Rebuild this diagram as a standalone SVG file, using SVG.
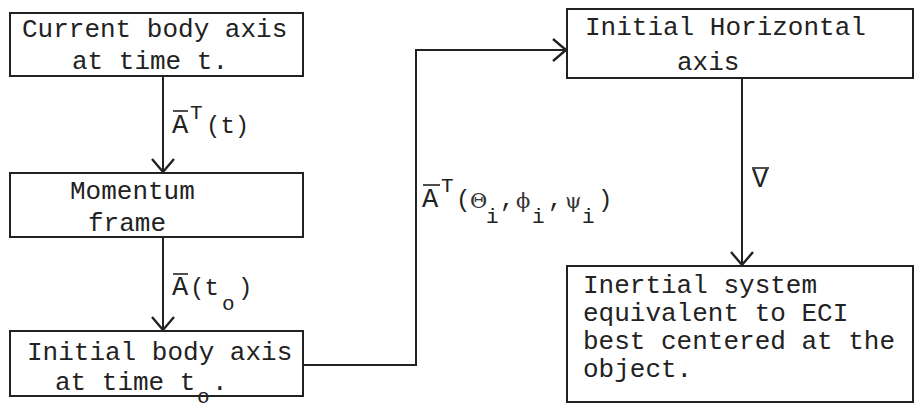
<svg xmlns="http://www.w3.org/2000/svg" width="916" height="410" viewBox="0 0 916 410">
<style>
.box{fill:#fff;stroke:#222;stroke-width:2}
.t{font-family:"Liberation Mono","DejaVu Sans Mono",monospace;font-size:26px;fill:#222}
.lbl{font-family:"Liberation Mono","DejaVu Sans Mono",monospace;font-size:27px;fill:#222}
.sm{font-family:"Liberation Mono","DejaVu Sans Mono",monospace;font-size:24px;fill:#222}
.sub{font-family:"Liberation Mono","DejaVu Sans Mono",monospace;font-size:21px;fill:#222}
.gr{font-family:"DejaVu Serif","Liberation Serif",serif;font-size:21px;fill:#333}
.ln{fill:none;stroke:#222;stroke-width:2}
.bar{stroke:#222;stroke-width:1.6}
</style>
<defs>
<marker id="arr" markerUnits="userSpaceOnUse" viewBox="-14 -12 16 24" refX="0" refY="0" markerWidth="16" markerHeight="24" orient="auto">
<path d="M-13,-11 L0,0 L-13,11" fill="none" stroke="#222" stroke-width="2.4"/>
</marker>
</defs>
<g id="connectors">
<path class="ln" d="M163,76 V172" marker-end="url(#arr)"/>
<path class="ln" d="M163,237 V330" marker-end="url(#arr)"/>
<path class="ln" d="M303,365 H416 V50 H566" marker-end="url(#arr)"/>
<path class="ln" d="M742,78 V265" marker-end="url(#arr)"/>
<g id="label-AT-t">
<text class="lbl" x="172" y="133">A</text>
<line class="bar" x1="173" y1="111" x2="188" y2="111"/>
<text class="sub" x="190" y="119">T</text>
<text class="sm" x="206" y="133">(t)</text>
</g>
<g id="label-A-to">
<text class="lbl" x="172" y="295">A</text>
<line class="bar" x1="173" y1="274" x2="188" y2="274"/>
<text class="sm" x="190" y="295">(t</text>
<text class="sub" x="222" y="310">o</text>
<text class="sm" x="238" y="295">)</text>
</g>
<g id="label-AT-angles">
<text class="lbl" x="422" y="207">A</text>
<line class="bar" x1="423" y1="185" x2="440" y2="185"/>
<text class="sub" x="441" y="192">T</text>
<text class="sm" x="456" y="207">(</text>
<text class="gr" x="470" y="208">Θ</text>
<text class="sub" x="486" y="223">i</text>
<text class="sm" x="500" y="207">,</text>
<text class="gr" x="516" y="208">ϕ</text>
<text class="sub" x="532" y="223">i</text>
<text class="sm" x="548" y="207">,</text>
<text class="gr" x="565" y="208">ψ</text>
<text class="sub" x="582" y="223">i</text>
<text class="sm" x="598" y="207">)</text>
</g>
<g id="label-V">
<text class="lbl" x="752" y="187">V</text>
<line class="bar" x1="752" y1="168" x2="769" y2="168"/>
</g>
</g>
<g id="n1">
<rect class="box" x="10" y="13" width="293" height="63"/>
<text class="t" x="22" y="37">Current body axis</text>
<text class="t" x="72" y="69">at time t.</text>
</g>
<g id="n2">
<rect class="box" x="10" y="173" width="293" height="64"/>
<text class="t" x="70" y="199">Momentum</text>
<text class="t" x="88" y="231">frame</text>
</g>
<g id="n3">
<rect class="box" x="10" y="331" width="293" height="65"/>
<text class="t" x="27" y="360">Initial body axis</text>
<text class="t" x="55" y="390">at time t</text>
<text class="sub" x="197" y="403">o</text>
<text class="t" x="212" y="390">.</text>
</g>
<g id="n4">
<rect class="box" x="567" y="9" width="346" height="69"/>
<text class="t" x="585" y="35">Initial Horizontal</text>
<text class="t" x="677" y="70">axis</text>
</g>
<g id="n5">
<rect class="box" x="567" y="266" width="346" height="136"/>
<text class="t" x="583" y="293">Inertial system</text>
<text class="t" x="583" y="321">equivalent to ECI</text>
<text class="t" x="583" y="349">best centered at the</text>
<text class="t" x="583" y="377">object.</text>
</g>
</svg>
